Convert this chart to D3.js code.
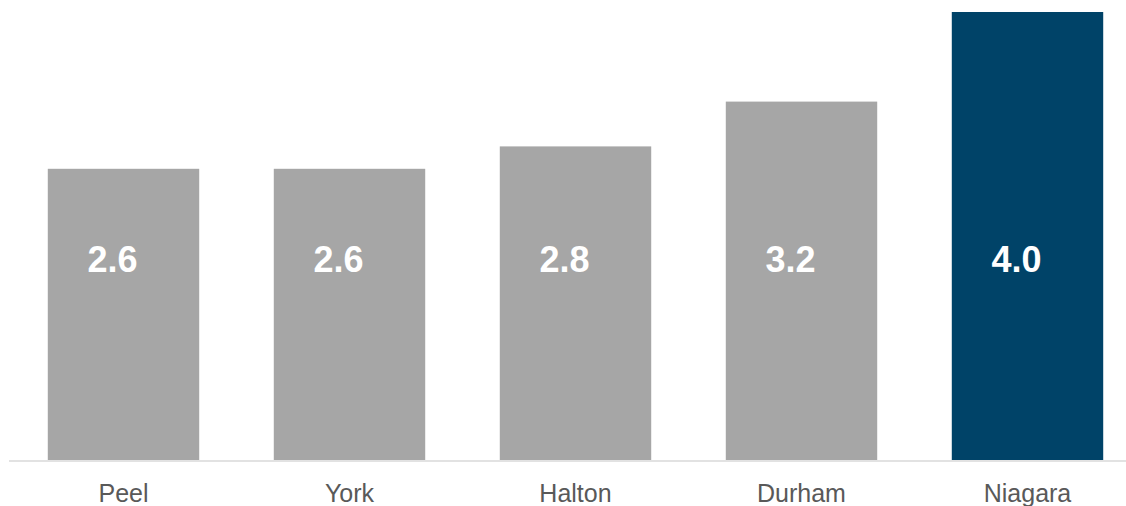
<!DOCTYPE html>
<html><head><meta charset="utf-8">
<script src="https://cdn.jsdelivr.net/npm/d3@7"></script>
<style>body{margin:0;background:#fff}svg{display:block}</style>
</head><body>
<svg id="c" width="1126" height="506"></svg>
<script>
const categories = ["Peel", "York", "Halton", "Durham", "Niagara"];
const values = [2.6, 2.6, 2.8, 3.2, 4.0];
const labels = ["2.6", "2.6", "2.8", "3.2", "4.0"];
const highlight = "Niagara";

const svg = d3.select("#c");
const x = d3.scaleBand().domain(categories).range([10.5, 1140.5]).paddingInner(0.33).paddingOuter(0.165);
const y = d3.scaleLinear().domain([0, 4]).range([460, 12]);

svg.selectAll("rect.bar").data(categories).join("rect")
  .attr("class", "bar")
  .attr("x", d => x(d))
  .attr("width", x.bandwidth())
  .attr("y", (d, i) => y(values[i]))
  .attr("height", (d, i) => y(0) - y(values[i]))
  .attr("fill", d => d === highlight ? "#004368" : "#a6a6a6");

svg.append("line").attr("x1", 9).attr("x2", 1126).attr("y1", 461).attr("y2", 461)
  .attr("stroke", "#d9d9d9").attr("stroke-width", 1.5);

svg.selectAll("text.val").data(categories).join("text")
  .attr("class", "val")
  .attr("x", d => x(d) + x.bandwidth() / 2 - 11)
  .attr("y", 272)
  .attr("text-anchor", "middle")
  .attr("font-family", "Liberation Sans, Arial, sans-serif")
  .attr("font-weight", "bold")
  .attr("font-size", 36)
  .attr("fill", "#fff")
  .text((d, i) => labels[i]);

svg.selectAll("text.cat").data(categories).join("text")
  .attr("class", "cat")
  .attr("x", d => x(d) + x.bandwidth() / 2)
  .attr("y", 502)
  .attr("text-anchor", "middle")
  .attr("font-family", "Liberation Sans, Arial, sans-serif")
  .attr("font-size", 25)
  .attr("fill", "#595959")
  .text(d => d);
</script>
</body></html>
